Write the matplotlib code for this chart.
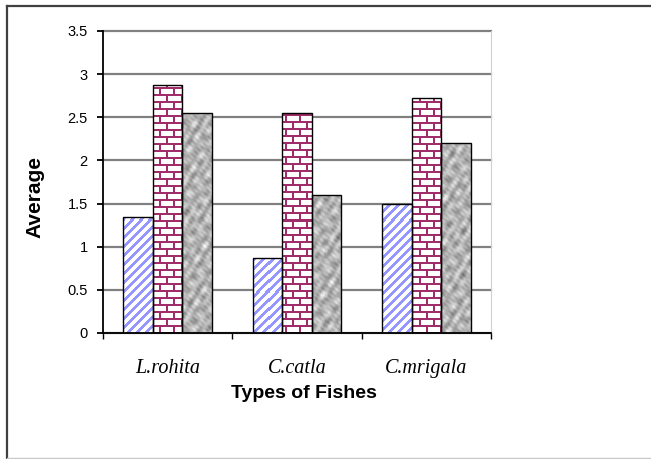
import numpy as np
import matplotlib
matplotlib.use('Agg')
import matplotlib.pyplot as plt
from matplotlib.lines import Line2D

#### data ####
fishes = ['L.rohita', 'C.catla', 'C.mrigala']
series1 = [1.35, 0.87, 1.50]
series2 = [2.87, 2.55, 2.72]
series3 = [2.55, 1.60, 2.20]
yticks = [0, 0.5, 1, 1.5, 2, 2.5, 3, 3.5]
ytick_labels = ['0', '0.5', '1', '1.5', '2', '2.5', '3', '3.5']

sans = ['Liberation Sans Narrow', 'Liberation Sans', 'DejaVu Sans']
serif = ['Liberation Serif', 'DejaVu Serif']

fig = plt.figure(figsize=(6.51, 4.59), dpi=100)
ax = fig.add_axes([103/651, 1-333/459, 388/651, 302/459])

x = np.arange(len(fishes))
w = 0.228
xlim = (-0.5, 2.5)
ylim = (0, 3.5)

#### textures (pixel space of the axes) ####
W = int(round(ax.bbox.width))
H = int(round(ax.bbox.height))
yy, xx = np.mgrid[0:H, 0:W]

# blue diagonal stripes
stripe = ((xx + yy) % 9) < 4
tex1 = np.ones((H, W, 3))
tex1[stripe] = np.array([150, 150, 255]) / 255

# bricks
row = yy // 7
shift = (row % 2) * 7
mortar = ((yy % 7) < 2) | (((xx + shift) % 14) < 2)
tex2 = np.ones((H, W, 3))
tex2[mortar] = np.array([160, 45, 105]) / 255

# mottled grey
v = (np.sin(0.37*xx + 0.27*yy + 0.3) + np.sin(-0.23*xx + 0.43*yy + 1.7)
     + np.sin(0.49*xx - 0.15*yy + 2.9) + np.sin(0.19*xx + 0.56*yy + 0.8)
     + np.sin(-0.61*xx - 0.31*yy + 4.1) + np.sin(0.72*xx + 0.46*yy + 5.3)
     + 0.6*np.sin(1.3*xx - 0.9*yy + 0.6) + 0.6*np.sin(-0.8*xx + 1.4*yy + 2.2))
v = v / np.abs(v).max()
g = np.clip(180 + 70*v, 0, 255) / 255
tex3 = np.dstack([g, g, g])

def draw_bars(pos, vals, tex):
    base = ax.bar(pos, vals, w, color='white', edgecolor='none', zorder=2)
    for b in base:
        im = ax.imshow(tex, extent=(xlim[0], xlim[1], ylim[0], ylim[1]),
                       origin='upper', aspect='auto', interpolation='nearest',
                       zorder=2.5)
        im.set_clip_path(b)
    ax.bar(pos, vals, w, fill=False, edgecolor='black', lw=1.0, zorder=3)

draw_bars(x - w, series1, tex1)
draw_bars(x, series2, tex2)
draw_bars(x + w, series3, tex3)

ax.set_xlim(*xlim)
ax.set_ylim(*ylim)

#### axes styling ####
ax.set_axisbelow(True)
ax.yaxis.grid(True, color='#808080', lw=1.6)
for gl in ax.get_ygridlines():
    gl.set_clip_on(False)
ax.spines['top'].set_visible(False)
ax.spines['right'].set_color('#d0d0d0')
ax.spines['right'].set_linewidth(0.8)
ax.spines['left'].set_linewidth(1.3)
ax.spines['bottom'].set_linewidth(1.3)

ax.set_yticks(yticks)
ax.set_yticklabels(ytick_labels, fontsize=10.5, family=sans)
ax.tick_params(axis='y', length=4.5, width=1.3, pad=6.5, direction='out')

ax.set_xticks(x)
ax.set_xticklabels(fishes, fontsize=14.5, family=serif, style='italic')
ax.tick_params(axis='x', which='major', length=0, pad=19)
ax.set_xticks([-0.5, 0.5, 1.5, 2.5], minor=True)
ax.tick_params(axis='x', which='minor', length=4, width=1.0, direction='out')

ax.set_xlabel('Types of Fishes', fontsize=14, fontweight='bold',
              family=sans, va='center')
ax.xaxis.set_label_coords((304-103)/388, (333-393)/302)
ax.set_ylabel('Average', fontsize=15, fontweight='bold', family=sans,
              va='center', ha='center')
ax.yaxis.set_label_coords((35-103)/388, (333-197)/302)

#### outer frame ####
fig.add_artist(Line2D([7/651, 7/651], [0, 1-6/459], color='#404040', lw=1.6,
                      transform=fig.transFigure))
fig.add_artist(Line2D([7/651, 1], [1-6/459, 1-6/459], color='#404040', lw=1.6,
                      transform=fig.transFigure))
fig.add_artist(Line2D([7/651, 1], [1-458/459, 1-458/459], color='#c8c8c8',
                      lw=1.0, transform=fig.transFigure))

fig.savefig('out.png', dpi=100)
